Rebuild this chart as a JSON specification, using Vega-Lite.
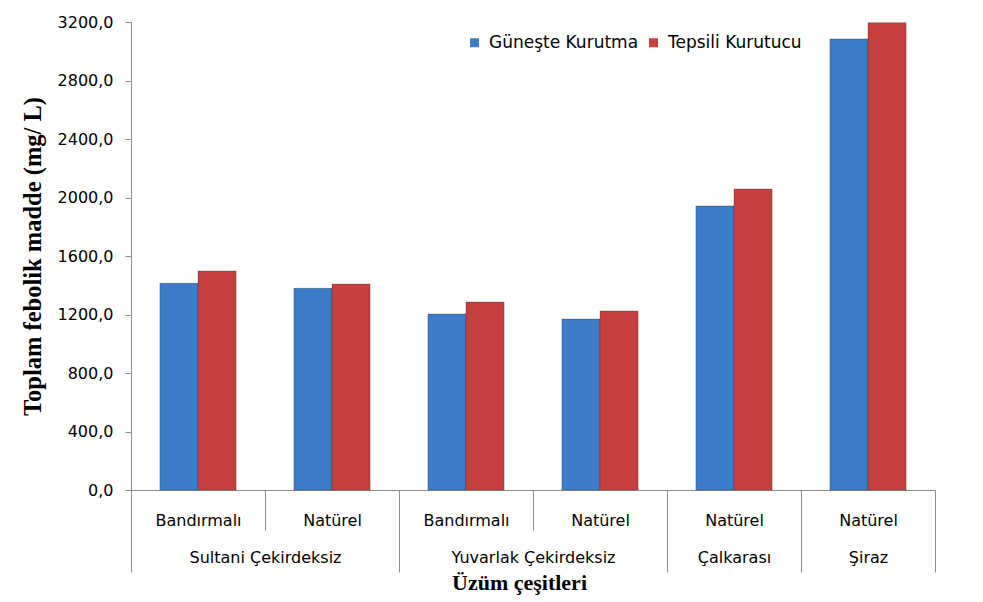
{
  "$schema": "https://vega.github.io/schema/vega-lite/v6.json",
  "width": 804,
  "height": 468,
  "autosize": {"type": "none"},
  "padding": {"left": 131, "top": 22, "right": 48, "bottom": 112},
  "background": "white",
  "config": {"view": {"stroke": null}},
  "data": {"values": [
    {"grup": "Sultani Çekirdeksiz", "tip": "Bandırmalı", "kod": "Sultani Çekirdeksiz|Bandırmalı", "kurutma": "Güneşte Kurutma", "deger": 1413},
    {"grup": "Sultani Çekirdeksiz", "tip": "Bandırmalı", "kod": "Sultani Çekirdeksiz|Bandırmalı", "kurutma": "Tepsili Kurutucu", "deger": 1497},
    {"grup": "Sultani Çekirdeksiz", "tip": "Natürel", "kod": "Sultani Çekirdeksiz|Natürel", "kurutma": "Güneşte Kurutma", "deger": 1379},
    {"grup": "Sultani Çekirdeksiz", "tip": "Natürel", "kod": "Sultani Çekirdeksiz|Natürel", "kurutma": "Tepsili Kurutucu", "deger": 1408},
    {"grup": "Yuvarlak Çekirdeksiz", "tip": "Bandırmalı", "kod": "Yuvarlak Çekirdeksiz|Bandırmalı", "kurutma": "Güneşte Kurutma", "deger": 1203},
    {"grup": "Yuvarlak Çekirdeksiz", "tip": "Bandırmalı", "kod": "Yuvarlak Çekirdeksiz|Bandırmalı", "kurutma": "Tepsili Kurutucu", "deger": 1285},
    {"grup": "Yuvarlak Çekirdeksiz", "tip": "Natürel", "kod": "Yuvarlak Çekirdeksiz|Natürel", "kurutma": "Güneşte Kurutma", "deger": 1169},
    {"grup": "Yuvarlak Çekirdeksiz", "tip": "Natürel", "kod": "Yuvarlak Çekirdeksiz|Natürel", "kurutma": "Tepsili Kurutucu", "deger": 1224},
    {"grup": "Çalkarası", "tip": "Natürel", "kod": "Çalkarası|Natürel", "kurutma": "Güneşte Kurutma", "deger": 1942},
    {"grup": "Çalkarası", "tip": "Natürel", "kod": "Çalkarası|Natürel", "kurutma": "Tepsili Kurutucu", "deger": 2058},
    {"grup": "Şiraz", "tip": "Natürel", "kod": "Şiraz|Natürel", "kurutma": "Güneşte Kurutma", "deger": 3084},
    {"grup": "Şiraz", "tip": "Natürel", "kod": "Şiraz|Natürel", "kurutma": "Tepsili Kurutucu", "deger": 3195}
  ]},
  "layer": [
    {
      "mark": {"type": "bar", "stroke": "#222222", "strokeWidth": 0.6, "strokeOpacity": 0.5},
      "encoding": {
        "x": {
          "field": "kod", "type": "nominal", "sort": null,
          "scale": {"paddingInner": 0, "paddingOuter": 0},
          "axis": {
            "orient": "bottom", "title": null,
            "labelExpr": "datum.value ? split(datum.value, '|')[1] : ''",
            "labelAngle": 0, "labelFont": "DejaVu Sans", "labelFontSize": 16, "labelColor": "#000000",
            "labelBaseline": "top", "labelPadding": -18, "labelOverlap": false, "labelFlush": false,
            "tickBand": "extent", "tickSize": 40, "tickColor": "#8c8c8c", "tickWidth": 1,
            "domainColor": "#8c8c8c", "domainWidth": 1, "grid": false
          }
        },
        "xOffset": {
          "field": "kurutma", "type": "nominal",
          "sort": ["Güneşte Kurutma", "Tepsili Kurutucu"],
          "scale": {"paddingInner": 0, "paddingOuter": 0.76}
        },
        "y": {
          "field": "deger", "type": "quantitative",
          "scale": {"domain": [0, 3200], "nice": false},
          "axis": {
            "title": "Toplam febolik madde (mg/ L)",
            "titleFont": "Liberation Serif", "titleFontSize": 24.5, "titleFontWeight": "bold", "titleColor": "#000000",
            "titlePadding": 12,
            "values": [0, 400, 800, 1200, 1600, 2000, 2400, 2800, 3200],
            "labelExpr": "replace(format(datum.value, '.1f'), '.', ',')",
            "labelFont": "DejaVu Sans", "labelFontSize": 16, "labelColor": "#000000", "labelPadding": 12,
            "tickSize": 6, "tickColor": "#8c8c8c", "domainColor": "#8c8c8c", "grid": false
          }
        },
        "color": {
          "field": "kurutma", "type": "nominal",
          "scale": {"domain": ["Güneşte Kurutma", "Tepsili Kurutucu"], "range": ["#3d7cc9", "#c8403e"]},
          "legend": {
            "title": null, "orient": "none", "direction": "horizontal",
            "legendX": 335, "legendY": 12,
            "symbolType": "square", "symbolSize": 81, "symbolStrokeWidth": 0,
            "labelFont": "DejaVu Sans", "labelFontSize": 17, "labelColor": "#000000",
            "labelOffset": 6, "columnPadding": 6
          }
        }
      }
    },
    {
      "mark": {"type": "bar", "opacity": 0},
      "encoding": {
        "x": {
          "field": "kod", "type": "nominal", "sort": null,
          "axis": {
            "orient": "bottom",
            "title": "Üzüm çeşitleri",
            "titleFont": "Liberation Serif", "titleFontSize": 22, "titleFontWeight": "bold", "titleColor": "#000000",
            "titlePadding": 0, "titleBaseline": "top", "titleX": 388,
            "labelExpr": "datum.value ? ((indexof(datum.value, 'Çekirdeksiz') >= 0 && indexof(datum.value, 'Natürel') >= 0) ? '' : split(datum.value, '|')[0]) : ''",
            "labelOffset": {"condition": {"test": "datum.value && indexof(datum.value, 'Çekirdeksiz') >= 0", "value": 67}, "value": 0},
            "labelAngle": 0, "labelFont": "DejaVu Sans", "labelFontSize": 16, "labelColor": "#000000",
            "labelBaseline": "top", "labelPadding": -23, "labelOverlap": false, "labelFlush": false,
            "tickBand": "extent", "tickSize": 82, "tickColor": "#8c8c8c", "tickWidth": 1,
            "tickOpacity": {"condition": {"test": "datum.value && indexof(datum.value, 'Bandırmalı') >= 0", "value": 0}, "value": 1},
            "domain": false, "grid": false
          }
        },
        "y": {"field": "deger", "type": "quantitative"}
      }
    }
  ],
  "resolve": {"axis": {"x": "independent"}}
}
